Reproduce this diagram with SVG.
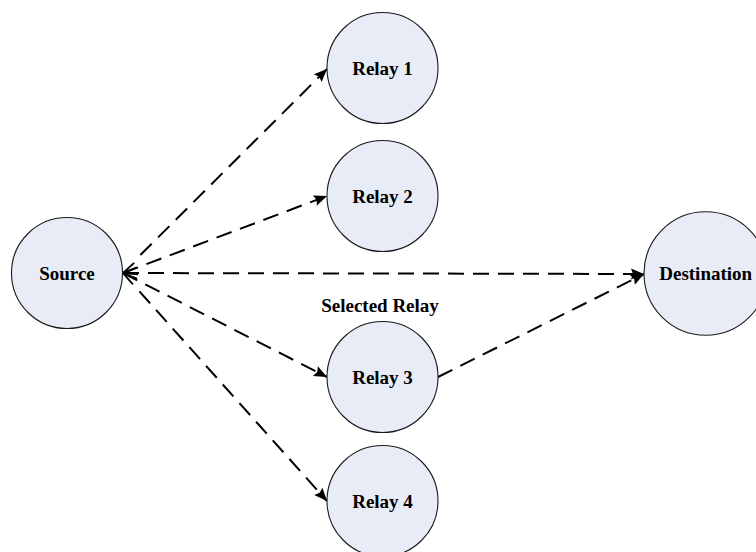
<svg xmlns="http://www.w3.org/2000/svg" width="756" height="552" viewBox="0 0 756 552">
  <style>
    .node { fill: #e8ecf6; stroke: #1a1a1a; stroke-width: 1.1; }
    .label { font-family: "Liberation Serif", "Times New Roman", serif; font-weight: bold; font-size: 19px; fill: #000; text-anchor: middle; }
    .conn { fill: none; stroke: #000; stroke-width: 2; stroke-dasharray: 16 9; }
  </style>
  <defs>
    <marker id="arrowEnd" markerUnits="userSpaceOnUse" viewBox="0 -6 14 12" markerWidth="14" markerHeight="12" refX="13" refY="0" orient="auto" overflow="visible">
      <path d="M0,-5.5 L13,0 L0,5.5 L2,0 z" fill="#000" stroke="none"/>
    </marker>
    <marker id="arrowStart" markerUnits="userSpaceOnUse" viewBox="-2 -8 18 16" markerWidth="18" markerHeight="16" refX="14" refY="0" orient="auto-start-reverse" overflow="visible">
      <path d="M0,-5.6 L14,0 L0,5.6" fill="none" stroke="#000" stroke-width="1.8" stroke-dasharray="none"/>
    </marker>
  </defs>
  <rect x="0" y="0" width="756" height="552" fill="#ffffff"/>
  <g id="connectors">
    <line class="conn" x1="134" y1="261.4" x2="327" y2="69" stroke-dashoffset="16" marker-end="url(#arrowEnd)"/>
    <line class="conn" x1="123" y1="273" x2="327" y2="196" marker-start="url(#arrowStart)" marker-end="url(#arrowEnd)"/>
    <line class="conn" x1="123" y1="273" x2="644" y2="274" marker-start="url(#arrowStart)" marker-end="url(#arrowEnd)"/>
    <line class="conn" x1="123" y1="273" x2="327" y2="377" marker-start="url(#arrowStart)" marker-end="url(#arrowEnd)"/>
    <line class="conn" x1="133.4" y1="284.6" x2="327" y2="501" stroke-dashoffset="16" marker-end="url(#arrowEnd)"/>
    <line class="conn" x1="438" y1="377" x2="644" y2="274" marker-end="url(#arrowEnd)"/>
  </g>
  <g id="source">
    <circle class="node" cx="67" cy="273" r="55.5"/>
    <text class="label" x="67" y="279.5">Source</text>
  </g>
  <g id="relay1">
    <circle class="node" cx="382.5" cy="68" r="55.5"/>
    <text class="label" x="382.5" y="75">Relay 1</text>
  </g>
  <g id="relay2">
    <circle class="node" cx="382.5" cy="196" r="55.5"/>
    <text class="label" x="382.5" y="203">Relay 2</text>
  </g>
  <g id="relay3">
    <text class="label" x="380" y="312">Selected Relay</text>
    <circle class="node" cx="382.5" cy="377" r="55.5"/>
    <text class="label" x="382.5" y="384">Relay 3</text>
  </g>
  <g id="relay4">
    <circle class="node" cx="382.5" cy="501" r="55.5"/>
    <text class="label" x="382.5" y="508">Relay 4</text>
  </g>
  <g id="destination">
    <circle class="node" cx="705.7" cy="273.5" r="61.7"/>
    <text class="label" x="705.7" y="280">Destination</text>
  </g>
</svg>
